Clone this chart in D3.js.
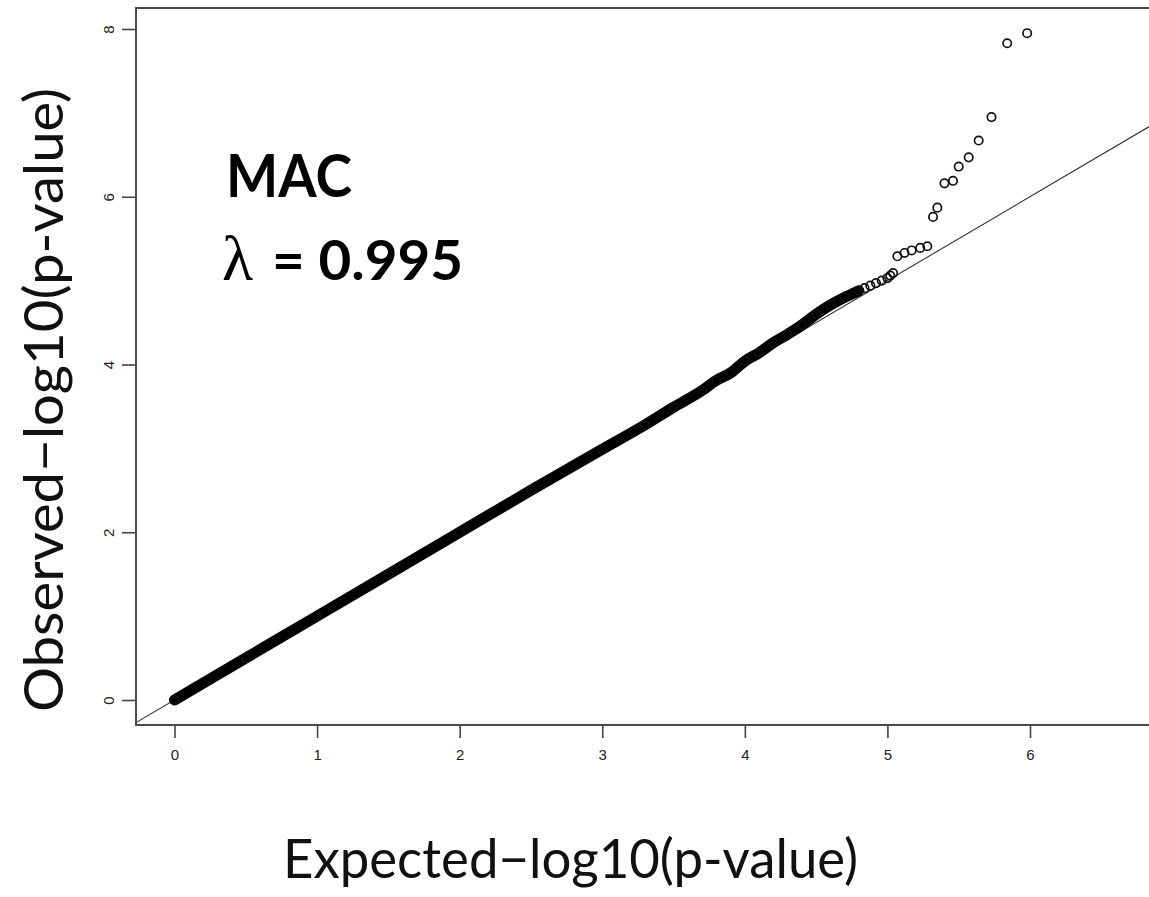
<!DOCTYPE html>
<html>
<head>
<meta charset="utf-8">
<script src="https://cdn.jsdelivr.net/npm/d3@7"></script>
<style>
  html, body { margin: 0; padding: 0; background: #fff; }
  svg { display: block; }
</style>
</head>
<body>
<svg id="chart" width="1149" height="897"></svg>
<script>
// ---- data ----
const xTicks = [0, 1, 2, 3, 4, 5, 6];
const yTicks = [0, 2, 4, 6, 8];

// dense part of the Q-Q band (expected, observed)
const expectedBand = [0, 0.5, 1, 1.5, 2, 2.5, 3, 3.3, 3.5, 3.7, 3.8, 3.9, 4.0, 4.1, 4.2, 4.3, 4.4, 4.5, 4.6, 4.7, 4.8];
const observedBand = [0, 0.5, 1, 1.5, 2, 2.5, 2.99, 3.28, 3.49, 3.69, 3.81, 3.9, 4.04, 4.14, 4.26, 4.36, 4.47, 4.6, 4.71, 4.8, 4.88];

// sparser upper part of the band (individual circles visible)
const expectedUpper = [4.84, 4.88, 4.92, 4.96, 5.0, 5.02, 5.04];
const observedUpper = [4.91, 4.94, 4.97, 5.0, 5.03, 5.06, 5.09];

// tail points
const expectedTail = [5.07, 5.12, 5.17, 5.23, 5.28, 5.32, 5.35, 5.40, 5.46, 5.50, 5.57, 5.64, 5.73, 5.84, 5.98];
const observedTail = [5.29, 5.33, 5.36, 5.39, 5.41, 5.76, 5.87, 6.16, 6.19, 6.36, 6.47, 6.67, 6.95, 7.83, 7.95];

const titleText = "MAC";
const lambdaValue = "0.995";
const xTitle = "Expected\u2212log10(p-value)";
const yTitle = "Observed\u2212log10(p-value)";

// ---- layout ----
const svg = d3.select("#chart");
const box = { left: 136, top: 8, right: 1165, bottom: 725 };

const x = d3.scaleLinear().domain([0, 6]).range([174.5, 1030]);
const y = d3.scaleLinear().domain([0, 8]).range([700, 29]);

svg.append("defs").append("clipPath").attr("id", "plotClip")
  .append("rect")
  .attr("x", box.left).attr("y", box.top)
  .attr("width", box.right - box.left).attr("height", box.bottom - box.top);

const plot = svg.append("g").attr("clip-path", "url(#plotClip)");

// reference line y = x
const x0 = x.invert(box.left), x1 = x.invert(box.right);
plot.append("line")
  .attr("x1", x(x0)).attr("y1", y(x0))
  .attr("x2", x(x1)).attr("y2", y(x1))
  .attr("stroke", "#333").attr("stroke-width", 1.1);

// dense band
const bandPts = expectedBand.map((e, i) => [e, observedBand[i]]);
plot.append("path")
  .datum(bandPts)
  .attr("d", d3.line().x(d => x(d[0])).y(d => y(d[1])).curve(d3.curveMonotoneX))
  .attr("fill", "none")
  .attr("stroke", "#000")
  .attr("stroke-width", 11)
  .attr("stroke-linecap", "round")
  .attr("stroke-linejoin", "round");

const circlePts = bandPts
  .concat(expectedUpper.map((e, i) => [e, observedUpper[i]]))
  .concat(expectedTail.map((e, i) => [e, observedTail[i]]));

plot.selectAll("circle.pt")
  .data(circlePts)
  .enter().append("circle")
  .attr("class", "pt")
  .attr("cx", d => x(d[0]))
  .attr("cy", d => y(d[1]))
  .attr("r", 4.2)
  .attr("fill", "none")
  .attr("stroke", "#111")
  .attr("stroke-width", 1.7);

// box (left, top, bottom visible)
svg.append("path")
  .attr("d", `M${box.right},${box.top}H${box.left}V${box.bottom}H${box.right}`)
  .attr("fill", "none")
  .attr("stroke", "#4a4a4a")
  .attr("stroke-width", 2);

// x axis ticks
const xAxis = d3.axisBottom(x).tickValues(xTicks).tickSize(12).tickPadding(11)
  .tickFormat(d3.format("d"));
const gx = svg.append("g").attr("transform", `translate(0,${box.bottom + 1})`).call(xAxis);
gx.select(".domain").remove();
gx.selectAll(".tick line").attr("stroke", "#444").attr("stroke-width", 1.6);
gx.selectAll(".tick text")
  .attr("fill", "#222")
  .style("font-family", "'Liberation Sans', Arial, sans-serif")
  .style("font-size", "15px");

// y axis ticks
const yAxis = d3.axisLeft(y).tickValues(yTicks).tickSize(13).tickPadding(0)
  .tickFormat(d3.format("d"));
const gy = svg.append("g").attr("transform", `translate(${box.left - 1},0)`).call(yAxis);
gy.select(".domain").remove();
gy.selectAll(".tick line").attr("stroke", "#444").attr("stroke-width", 1.6);
gy.selectAll(".tick text")
  .attr("x", null).attr("dy", null)
  .attr("text-anchor", "middle")
  .attr("transform", "translate(-26,0) rotate(-90)")
  .attr("y", 5)
  .attr("fill", "#222")
  .style("font-family", "'Liberation Sans', Arial, sans-serif")
  .style("font-size", "15px");

// annotation
svg.append("text")
  .attr("x", 226).attr("y", 197)
  .attr("textLength", 126).attr("lengthAdjust", "spacingAndGlyphs")
  .style("font-family", "Lato, 'Open Sans', sans-serif")
  .style("font-weight", "bold")
  .style("font-size", "60px")
  .attr("fill", "#000")
  .text(titleText);

svg.append("text")
  .attr("x", 222).attr("y", 280)
  .style("font-family", "'Liberation Serif', 'DejaVu Serif', serif")
  .style("font-size", "64px")
  .attr("fill", "#000")
  .text("\u03bb");

svg.append("text")
  .attr("x", 272).attr("y", 280)
  .attr("textLength", 191).attr("lengthAdjust", "spacingAndGlyphs")
  .style("font-family", "Lato, 'Open Sans', sans-serif")
  .style("font-weight", "bold")
  .style("font-size", "56px")
  .attr("fill", "#000")
  .text("= " + lambdaValue);

// axis titles
svg.append("text")
  .attr("x", 283).attr("y", 878)
  .attr("textLength", 575).attr("lengthAdjust", "spacingAndGlyphs")
  .style("font-family", "Lato, 'Open Sans', sans-serif")
  .style("font-weight", 400)
  .style("font-size", "55px")
  .attr("fill", "#111")
  .text(xTitle);

svg.append("text")
  .attr("transform", "translate(63,712) rotate(-90)")
  .attr("x", 0).attr("y", 0)
  .attr("textLength", 624).attr("lengthAdjust", "spacingAndGlyphs")
  .style("font-family", "Lato, 'Open Sans', sans-serif")
  .style("font-weight", 400)
  .style("font-size", "55px")
  .attr("fill", "#111")
  .text(yTitle);
</script>
</body>
</html>
